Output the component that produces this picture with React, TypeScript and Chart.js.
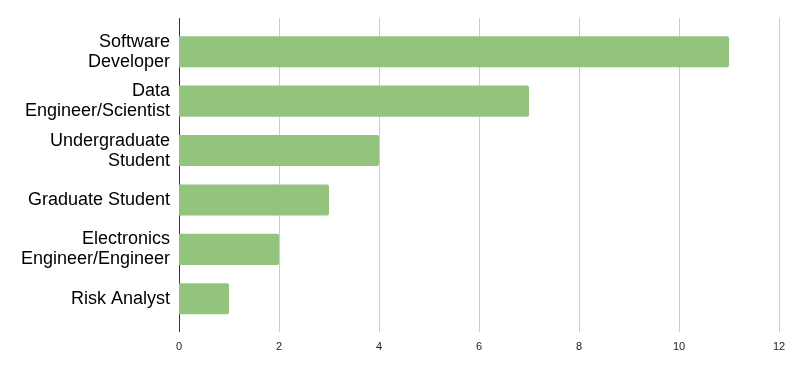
import React, { useEffect, useRef } from "react";
import { Chart, registerables } from "chart.js";

Chart.register(...registerables);

const categories: string[][] = [
  ["Software", "Developer"],
  ["Data", "Engineer/Scientist"],
  ["Undergraduate", "Student"],
  ["Graduate Student"],
  ["Electronics", "Engineer/Engineer"],
  ["Risk Analyst"],
];
const counts: number[] = [11, 7, 4, 3, 2, 1];
const xTicks: number[] = [0, 2, 4, 6, 8, 10, 12];

const gridPlugin = {
  id: "extendedGrid",
  beforeDatasetsDraw(chart: any) {
    const { ctx, scales } = chart;
    const x = scales.x;
    const top = chart.chartArea.top - 9;
    const bottom = chart.chartArea.bottom + 8.5;
    ctx.save();
    ctx.lineWidth = 1;
    xTicks.forEach((v) => {
      const px = Math.round(x.getPixelForValue(v)) + 0.5;
      ctx.strokeStyle = v === 0 ? "#333333" : "#cccccc";
      ctx.beginPath();
      ctx.moveTo(px, top);
      ctx.lineTo(px, bottom);
      ctx.stroke();
    });
    ctx.restore();
  },
};

export default function App() {
  const ref = useRef<HTMLCanvasElement | null>(null);
  useEffect(() => {
    if (!ref.current) return;
    const chart = new Chart(ref.current, {
      type: "bar",
      data: {
        labels: categories as any,
        datasets: [
          {
            data: counts,
            backgroundColor: "#93c47d",
            borderRadius: 2,
            borderSkipped: "start",
            barPercentage: 0.63,
            categoryPercentage: 1,
          },
        ],
      },
      options: {
        indexAxis: "y",
        animation: false,
        responsive: true,
        maintainAspectRatio: false,
        layout: { padding: { top: 27, right: 18, left: 0, bottom: 0 } },
        plugins: { legend: { display: false }, tooltip: { enabled: false } },
        scales: {
          x: {
            min: 0,
            max: 12,
            afterBuildTicks: (s: any) => {
              s.ticks = xTicks.map((v) => ({ value: v }));
            },
            grid: { display: false },
            border: { display: false },
            ticks: {
              color: "#222222",
              font: { family: "'Liberation Sans', Arial, sans-serif", size: 11 },
              padding: 9,
            },
            afterFit: (s: any) => {
              s.height = 371 - 323.5;
            },
          },
          y: {
            grid: { display: false },
            border: { display: false },
            ticks: {
              color: "#000000",
              font: { family: "'Liberation Sans', Arial, sans-serif", size: 18, lineHeight: "20px" },
              padding: 1,
            },
            afterFit: (s: any) => {
              s.width = 179;
            },
          },
        },
      },
      plugins: [gridPlugin],
    });
    return () => chart.destroy();
  }, []);
  return (
    <div style={{ position: "fixed", left: 0, top: 0, width: 797, height: 371, background: "#fff" }}>
      <canvas ref={ref} />
    </div>
  );
}
